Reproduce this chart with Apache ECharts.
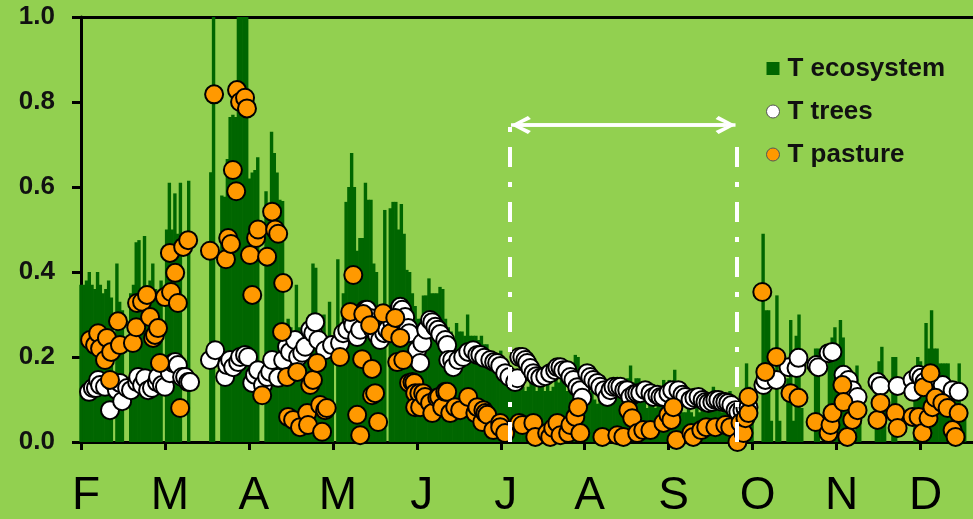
<!DOCTYPE html>
<html>
<head>
<meta charset="utf-8">
<script src="https://cdn.jsdelivr.net/npm/echarts@6/dist/echarts.min.js"></script>
<style>
html,body{margin:0;padding:0;background:#92D050;}
#chart{width:973px;height:519px;}
</style>
</head>
<body>
<div id="chart"></div>
<script>
// x = days since 1 February; months drawn with equal width (30.4 days)
const monthLabels = ['F','M','A','M','J','J','A','S','O','N','D'];
const monthLen = 30.4;
const yTicks = [0, 0.2, 0.4, 0.6, 0.8, 1.0];

// T ecosystem, one value per day from 1 Feb (null = no data)
const ecosystem = [
0.37,0.37,0.38,0.40,0.37,0.36,0.40,0.37,0.35,0.36,0.38,0.34,
null,0.42,0.33,0.31,null,null,
0.35,0.37,0.47,0.475,0.36,0.485,0.35,0.38,0.42,0.36,0.35,0.38,
null,0.50,0.61,0.50,0.585,0.49,0.61,null,null,0.615,
null,null,null,null,null,null,null,
0.635,1.0,null,null,
0.58,0.577,0.666,0.765,0.77,0.765,1,1,1,1,
0.62,0.634,0.64,0.67,null,null,
0.59,0.53,0.73,0.68,0.634,0.57,0.567,
0.28,0.29,0.27,0.26,0.37,0.27,0.25,0.24,0.28,0.30,0.42,0.41,0.30,0.22,0.30,0.25,0.33,0.24,
null,0.43,0.25,
0.35,0.565,0.60,0.68,0.60,0.45,0.48,0.48,0.61,0.57,0.57,0.42,0.40,0.30,0.30,0.546,
null,
0.55,0.565,0.565,0.50,0.56,0.49,0.405,0.40,0.35,0.32,0.29,0.29,0.345,0.345,0.385,0.35,0.35,0.35,0.365,0.36,
0.29,0.27,0.26,0.24,0.28,0.26,0.26,0.25,0.30,0.25,0.25,0.25,0.24,0.25,0.23,0.23,0.20,0.18,0.17,0.18,
0.215,0.17,0.16,0.15,0.13,0.14,0.16,0.13,0.13,0.12,0.13,0.15,0.14,0.12,0.15,0.13,0.12,0.14,0.12,0.13,
0.15,0.14,0.19,0.14,0.12,0.15,0.15,0.205,0.20,0.08,0.06,0.10,0.11,0.12,0.10,0.09,0.12,0.11,0.10,0.12,
0.11,0.10,0.12,0.11,0.10,0.11,0.15,0.18,0.14,0.15,0.15,0.12,0.10,0.08,0.10,0.09,0.08,0.10,0.12,0.146,
0.10,0.146,0.12,0.17,0.09,0.08,0.07,0.07,0.08,0.07,0.06,0.08,0.07,0.09,0.08,0.08,0.10,0.13,0.09,0.08,
0.07,0.08,0.07,0.12,0.10,0.06,0.05,0.07,0.09,0.185,0.13,0.12,
null,null,null,
0.49,0.31,0.31,0.05,null,0.345,0.05,null,null,
0.15,0.287,0.05,0.25,0.30,0.08,
null,null,null,null,
0.22,0.22,null,null,null,
0.20,0.246,0.27,0.20,0.287,0.246,0.12,
null,null,null,0.18,0.10,
null,null,null,null,null,
0.12,0.19,0.224,0.08,null,null,0.20,0.20,
null,null,null,null,null,null,
0.15,0.20,0.19,0.13,0.28,0.22,0.31,0.22,0.22,0.185,0.185,0.185,0.185,0.12,0.13,0.10,0.185,0.08,0.06
];

// T trees: [day, value]
const trees = [
[2.9,0.118],[4.3,0.127],[5.4,0.127],[6.2,0.146],[6.9,0.134],[8.7,0.13],[10.5,0.075],[11.6,0.141],[13,0.122],[14.1,0.139],[14.9,0.096],
[16.7,0.127],[18.1,0.122],[20.3,0.141],[20.7,0.153],[22.1,0.134],[23.2,0.15],[24.3,0.122],[25.7,0.127],[27.5,0.141],[27.9,0.153],
[29.3,0.134],[30.4,0.13],[32.2,0.162],[33.3,0.186],[34.1,0.188],[35.1,0.181],[36.6,0.153],[37.7,0.153],[38.8,0.141],[39.5,0.141],
[46.7,0.193],[48.6,0.216],[52.2,0.153],[52.9,0.181],[54,0.193],[55.1,0.176],[56.9,0.188],[57.6,0.2],[59.4,0.205],[60.5,0.2],
[62,0.139],[63,0.158],[64.1,0.169],[65.9,0.134],[67.4,0.153],[68.5,0.165],[69.2,0.193],[71.4,0.151],[73.2,0.193],[74.6,0.224],
[75.7,0.212],[77.5,0.24],[78.6,0.2],[80.1,0.21],[81.2,0.224],[83,0.264],[84.1,0.256],[84.8,0.282],[85.9,0.24],[88.4,0.216],
[90.9,0.228],[93.8,0.233],[94.9,0.256],[96.4,0.264],[98.2,0.287],[98.6,0.275],[100,0.247],[101.1,0.264],[102.9,0.311],[103.6,0.311],
[104.7,0.292],[105.8,0.264],[107.2,0.252],[108.3,0.24],[109.8,0.256],[110.9,0.264],[112.7,0.282],[114.5,0.306],[115.6,0.318],[116.3,0.311],
[117.4,0.294],[118.5,0.268],[118.8,0.256],[121.7,0.216],[122.8,0.186],[123.6,0.233],[125,0.264],[126.4,0.287],[127.2,0.282],[128.3,0.271],
[129.3,0.264],[130.1,0.254],[131.9,0.24],[132.6,0.228],[133,0.193],[134.4,0.193],[134.8,0.176],
[136.6,0.193],[138.4,0.2],[140.2,0.212],[142,0.216],[143.5,0.205],[144.6,0.205],[146,0.198],[148.2,0.193],[149.6,0.188],[150.7,0.186],
[151.8,0.179],[153.6,0.162],[155.1,0.153],[157.2,0.141],[158,0.15],[158.7,0.2],[159.8,0.2],[160.9,0.193],[161.6,0.186],[162.7,0.174],
[163.8,0.162],[164.9,0.155],[166.3,0.151],[168.1,0.155],[169.9,0.162],[171.7,0.169],[172.5,0.176],[173.6,0.176],[174.6,0.169],[176.1,0.169],
[177.2,0.153],[178.3,0.146],[179.7,0.129],[180.8,0.122],[181.5,0.104],[183.3,0.162],[184.4,0.153],[185.5,0.146],[187,0.139],[188,0.13],
[189.5,0.122],[190.6,0.106],[191.7,0.122],[192.8,0.13],[194.2,0.13],[195.3,0.13],[196.7,0.122],[197.8,0.122],[198.9,0.106],[200.4,0.113],
[201.4,0.115],[202.5,0.115],[204.3,0.122],[206.2,0.115],[207.2,0.106],[208.7,0.111],[209.8,0.106],[210.9,0.106],
[212.7,0.115],[214.1,0.122],[216.3,0.122],[217.8,0.111],[218.8,0.106],[220.7,0.099],[222.1,0.104],[223.6,0.106],[225.1,0.099],[226.1,0.094],
[227.2,0.092],[228.6,0.094],[229.7,0.099],[230.8,0.099],[232.2,0.094],[233.3,0.094],[234.4,0.092],[235.5,0.087],[237,0.075],[238,0.071],
[239.5,0.075],[240.6,0.08],[241.7,0.082],
[247.1,0.134],[247.8,0.146],[251.8,0.146],[256.2,0.176],[259.1,0.174],[259.8,0.198],[266.3,0.181],[267,0.176],[270.7,0.209],[272.1,0.212],
[276.1,0.158],[277.9,0.146],[279.3,0.122],[281.2,0.106],[288.4,0.141],[289.5,0.132],[295.7,0.132],[301.1,0.146],[301.4,0.118],[303.3,0.158],
[304.3,0.151],[305.4,0.141],[307.6,0.134],[310.1,0.129],[312,0.134],[315.6,0.122],[317.8,0.118]
];

// T pasture: [day, value]
const pasture = [
[3.3,0.24],[5.1,0.228],[6.2,0.256],[6.9,0.22],[8.7,0.193],[9.4,0.245],[10.5,0.146],[10.9,0.212],[13.4,0.284],[14.1,0.228],
[18.8,0.233],[20,0.27],[20.3,0.327],[22.1,0.33],[23.9,0.346],[25,0.294],[26.1,0.245],[26.8,0.252],[27.9,0.268],[28.6,0.186],
[30.4,0.341],[32.2,0.445],[32.6,0.353],[34.1,0.398],[35.1,0.327],[35.9,0.08],[37,0.459],[38.8,0.475],
[46.7,0.45],[48.2,0.818],[52.5,0.43],[53.3,0.48],[54.3,0.466],[55,0.64],[56.2,0.59],[56.5,0.828],[57.6,0.8],[59.4,0.81],
[60.1,0.785],[61.2,0.44],[62,0.346],[63.4,0.48],[64.1,0.5],[65.6,0.11],[67.4,0.436],[69.2,0.542],[70.3,0.5],[71.4,0.49],
[72.8,0.259],[73.2,0.374],[74.6,0.153],[75,0.059],[76.8,0.052],[78.3,0.165],[79.3,0.035],[81.9,0.068],[82.2,0.04],[83,0.134],
[84,0.146],[85.5,0.186],[86.6,0.087],[87.3,0.024],[88.4,0.075],[89,0.08],
[93.8,0.2],[97.5,0.306],[98.6,0.393],[100,0.064],[101.1,0.016],[101.8,0.195],[102.2,0.301],[104.7,0.275],[105.4,0.172],[105.4,0.11],
[106.5,0.115],[107.6,0.047],[109.4,0.303],[112,0.256],[113.8,0.292],[114.5,0.188],[115.6,0.245],[116.7,0.193],
[118.8,0.139],[120,0.141],[120.7,0.139],[121,0.115],[121,0.082],[122.5,0.115],[122.8,0.082],[123.9,0.115],[124.6,0.106],[126.4,0.092],
[127.2,0.068],[129,0.104],[129.7,0.106],[130.8,0.082],[131.9,0.118],[132.6,0.118],[133.7,0.068],[135.5,0.082],[137.3,0.075],[140.2,0.106],
[142.8,0.068],[143.5,0.082],[145.3,0.047],[145.7,0.075],[146.4,0.068],[147.1,0.064],[149.3,0.028],[151.8,0.045],[151.8,0.035],[153.6,0.021],
[158.7,0.045],[159.8,0.04],[163.8,0.045],[164.5,0.012],[168.8,0.021],[169.9,0.012],[171,0.033],[172.5,0.045],[173.6,0.016],[176.4,0.021],
[177.2,0.04],[179,0.059],[180,0.082],[180.8,0.021],[188.8,0.012],[194.2,0.016],[196.4,0.012],[198.2,0.075],[199.6,0.056],[201.4,0.021],
[203.6,0.028],[206.2,0.028],[210.9,0.045],[212.7,0.064],[213.8,0.052],[214.5,0.082],[215.6,0.005],[221,0.021],[221.7,0.012],[224.6,0.028],
[226.4,0.035],[229.7,0.035],[233.3,0.04],[235.1,0.035],[237.7,0.0],[238.8,0.045],[239.9,0.021],[240.6,0.056],[241.7,0.068],[241.7,0.106],
[246.7,0.353],[247.8,0.165],[251.8,0.2],[256.9,0.115],[259.8,0.104],[266,0.047],[270.7,0.021],[271.4,0.04],[272.1,0.068],[275.7,0.134],
[276.1,0.094],[277.5,0.012],[279.3,0.052],[281.2,0.075],[288.4,0.052],[289.5,0.092],[294.9,0.068],[295.7,0.033],[301.1,0.059],[303.3,0.059],
[304.7,0.021],[305.1,0.129],[306.9,0.056],[307.6,0.162],[308.3,0.082],[309.4,0.104],[311.9,0.092],[313.8,0.08],[315.6,0.028],[316.7,0.012],
[317.8,0.068]
];

// annotated period (days) and arrow level
const periodStart = 155.1, periodEnd = 237.3;
const arrowLevel = 0.746;

const ecoData = ecosystem.map((v, i) => [i, v]);
const tickValues = monthLabels.map((m, i) => i * monthLen);
const labelValues = monthLabels.map((m, i) => i * monthLen + 1.8);

const FONT = '"Liberation Sans", Arial, sans-serif';
const chevron = 'path://M9,0 L18,17 L15,20 L9,7 L3,20 L0,17 Z';

const chart = echarts.init(document.getElementById('chart'), null, {renderer: 'canvas'});
chart.setOption({
  animation: false,
  backgroundColor: '#92D050',
  grid: {left: 81, right: 0, top: 17, bottom: 77, containLabel: false},
  legend: {
    orient: 'vertical', left: 761, top: 50, itemGap: 16,
    itemWidth: 13, itemHeight: 13,
    textStyle: {fontFamily: FONT, fontSize: 26, fontWeight: 'bold', color: '#111', lineHeight: 27, padding: [0,0,0,3]},
    data: [
      {name: 'T ecosystem', icon: 'rect'},
      {name: 'T trees', icon: 'circle', itemStyle: {borderColor: '#555', borderWidth: 1}},
      {name: 'T pasture', icon: 'circle', itemStyle: {borderColor: '#555', borderWidth: 1}}
    ]
  },
  xAxis: [{
    type: 'value', min: 0, max: 323,
    axisLine: {show: true, lineStyle: {color: '#000', width: 3}},
    axisTick: {show: true, length: 8, lineStyle: {color: '#000', width: 3}, customValues: tickValues},
    axisLabel: {
      show: true, customValues: labelValues, margin: 31,
      fontFamily: FONT, fontSize: 46, color: '#000',
      formatter: v => monthLabels[Math.round((v - 1.8) / monthLen)] || ''
    },
    splitLine: {show: false}
  }, {
    type: 'value', min: 0, max: 323, position: 'top',
    axisLine: {show: true, lineStyle: {color: '#000', width: 3}},
    axisTick: {show: false}, axisLabel: {show: false}, splitLine: {show: false}
  }],
  yAxis: {
    type: 'value', min: 0, max: 1, interval: 0.2,
    axisLine: {show: true, lineStyle: {color: '#000', width: 3}},
    axisTick: {show: true, length: 9, lineStyle: {color: '#000', width: 3}},
    axisLabel: {
      margin: 26, fontFamily: FONT, fontSize: 26, fontWeight: 'bold', color: '#111',
      formatter: v => v.toFixed(1)
    },
    splitLine: {show: false}
  },
  series: [
    {
      name: 'T ecosystem', type: 'bar', data: ecoData, barWidth: 3.4,
      itemStyle: {color: '#006600'},
      markLine: {
        silent: true, symbol: 'none', animation: false,
        label: {show: false},
        data: [
          [{coord: [periodStart, 0], lineStyle: {color: '#fff', width: 4, type: [20, 15, 5, 15]}},
           {coord: [periodStart, 0.751]}],
          [{coord: [periodEnd, 0], lineStyle: {color: '#fff', width: 4, type: [20, 15, 5, 15]}},
           {coord: [periodEnd, 0.715]}],
          [{coord: [periodStart + 0.6, arrowLevel], lineStyle: {color: '#fff', width: 3.5, type: 'solid'}},
           {coord: [periodEnd - 0.3, arrowLevel]}],
          [{coord: [periodStart + 4.2, arrowLevel], symbol: chevron, symbolSize: [18, 20], lineStyle: {color: '#fff', width: 3.5, type: 'solid'}},
           {coord: [periodEnd - 3.9, arrowLevel], symbol: chevron, symbolSize: [18, 20]}]
        ]
      }
    },
    {
      name: 'T trees', type: 'scatter', data: trees, symbolSize: 18, clip: false,
      itemStyle: {color: '#FFFFFF', borderColor: '#000', borderWidth: 2, opacity: 1}
    },
    {
      name: 'T pasture', type: 'scatter', data: pasture, symbolSize: 18, clip: false,
      itemStyle: {color: '#FF9900', borderColor: '#000', borderWidth: 2, opacity: 1}
    }
  ]
});
</script>
</body>
</html>
